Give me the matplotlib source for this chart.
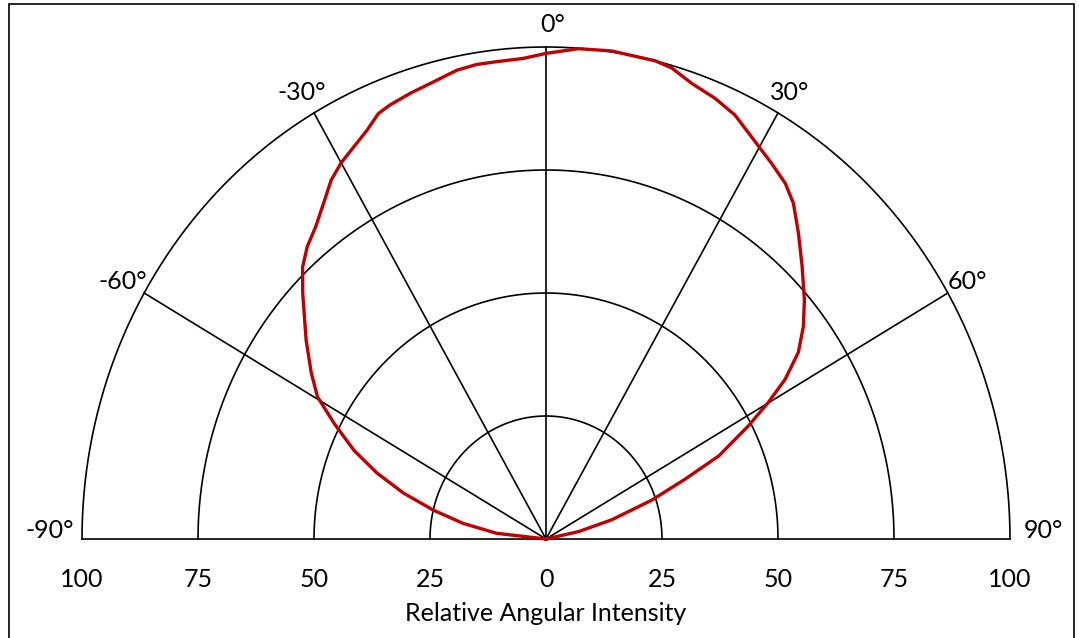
import numpy as np
import matplotlib
matplotlib.use('Agg')
import matplotlib.pyplot as plt
from matplotlib.patches import Rectangle

plt.rcParams['font.family'] = ['Lato', 'DejaVu Sans']

# emission angle (deg) and relative intensity (%)
angles = [-90, -83.8, -79.9, -76.4, -73.1, -69.8, -66.5, -62.8, -59.6, -56.3,
          -52.0, -46.4, -43.5, -40.9, -38.0, -34.7, -32.4, -30.0, -27.5, -24.9,
          -22.7, -20.9, -17.9, -14.7, -11.4, -8.8, -6.2, -2.9, 0, 4.0,
          8.1, 13.6, 15.8, 18.7, 22.1, 25.3, 28.4, 32.5, 35.5, 38.0,
          41.2, 44.9, 48.9, 52.1, 55.1, 57.8, 59.9, 62.2, 65.6, 67.9,
          70.9, 74.6, 77.9, 90]
intensity = [0, 10.7, 18.2, 25.0, 32.1, 38.8, 45.1, 51.3, 57.1, 60.8,
             65.6, 72.4, 76.2, 78.6, 80.6, 83.8, 86.4, 88.3, 89.8, 91.6,
             93.7, 94.4, 95.2, 96.0, 97.2, 97.6, 97.6, 97.8, 98.7, 99.9,
             100.2, 100.0, 99.5, 97.8, 96.7, 95.3, 93.0, 90.5, 88.8, 86.6,
             82.6, 78.2, 73.9, 70.3, 66.3, 60.9, 55.4, 49.3, 40.9, 32.4,
             24.1, 14.7, 7.2, 0]

rings = [25, 50, 75, 100]
spokes = [-60, -30, 0, 30, 60]
tick_pos = [-100, -75, -50, -25, 0, 25, 50, 75, 100]
tick_labels = ['100', '75', '50', '25', '0', '25', '50', '75', '100']
angle_labels = [(-90, (-32, 9)), (-60, (-21, 11)), (-30, (-12, 20)),
                (0, (7, 22)), (30, (12, 20)), (60, (20, 11)), (90, (33, 9))]

W, H = 1079, 638
fig = plt.figure(figsize=(W / 100, H / 100), dpi=100)
ax = fig.add_axes([82 / W, (H - 539) / H, (1010 - 82) / W, (539 - 47) / H])
ax.set_xlim(-100, 100)
ax.set_ylim(0, 100)
for s in ax.spines.values():
    s.set_visible(False)
ax.tick_params(left=False, labelleft=False, length=0, pad=21, labelsize=18)
ax.set_xticks(tick_pos)
ax.set_xticklabels(tick_labels)
ax.set_xlabel('Relative Angular Intensity', fontsize=18, labelpad=8)

lw = 1.2
t = np.radians(np.linspace(-90, 90, 400))
for r in rings:
    ax.plot(r * np.sin(t), r * np.cos(t), color='black', lw=lw, clip_on=False)
for a in spokes:
    ar = np.radians(a)
    ax.plot([0, 100 * np.sin(ar)], [0, 100 * np.cos(ar)], color='black',
            lw=lw, clip_on=False)
ax.plot([-100, 100], [0, 0], color='black', lw=lw, clip_on=False)

for a, off in angle_labels:
    ar = np.radians(a)
    ax.annotate(f'{a}°', (100 * np.sin(ar), 100 * np.cos(ar)), xytext=off,
                textcoords='offset pixels', ha='center', va='center',
                fontsize=18)

th = np.radians(angles)
rr = np.array(intensity)
ax.plot(rr * np.sin(th), rr * np.cos(th), color='#C00000', lw=2.4,
        solid_joinstyle='round', clip_on=False, zorder=5)

# outer frame
fig.patches.append(Rectangle((9 / W, -0.01), (1074 - 9) / W, (H - 4) / H + 0.01,
                             transform=fig.transFigure, fill=False,
                             edgecolor='black', lw=1.2))

fig.savefig('out.png', dpi=100)
